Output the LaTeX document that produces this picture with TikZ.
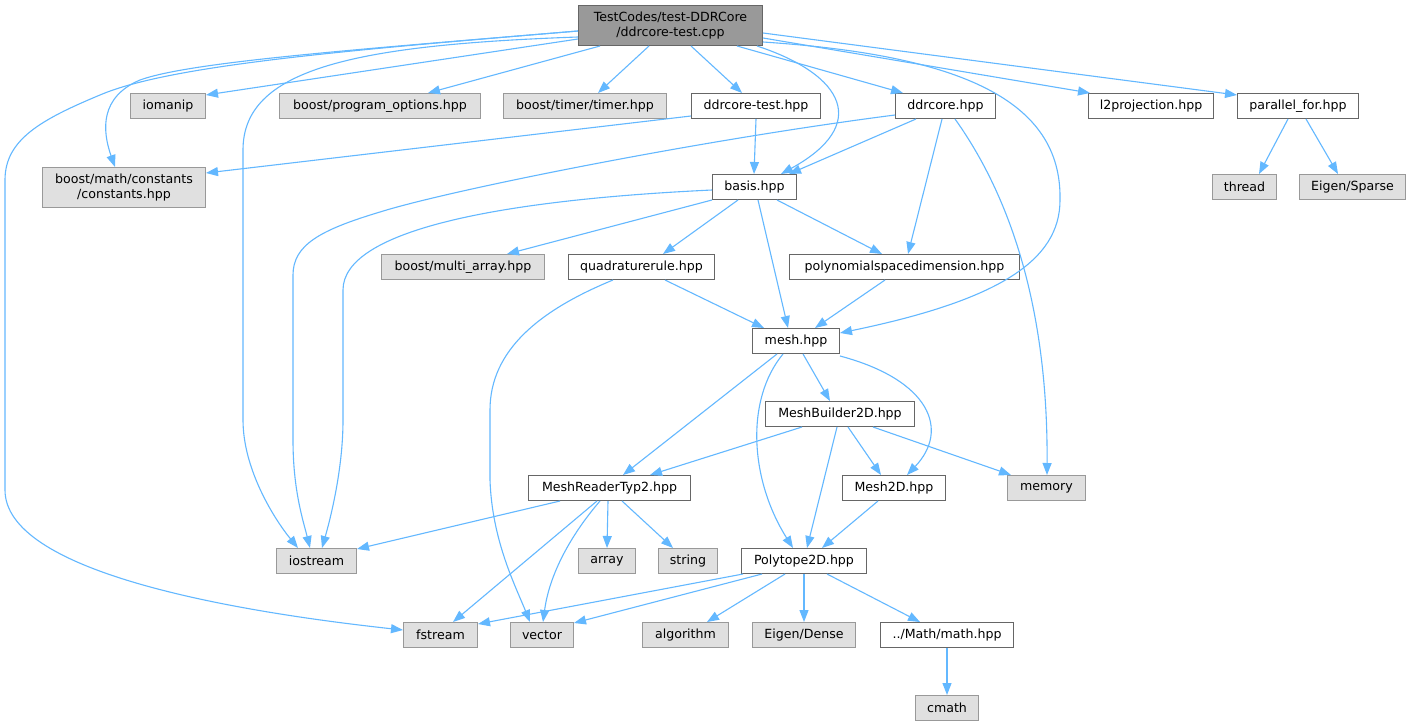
\documentclass[tikz,border=0pt]{standalone}
\usepackage{fontspec}
\setmainfont{DejaVu Sans}
\usetikzlibrary{arrows.meta}
\definecolor{edgec}{HTML}{63B8FF}
\definecolor{gfill}{HTML}{E0E0E0}
\definecolor{gline}{HTML}{999999}
\definecolor{wline}{HTML}{666666}
\definecolor{rfill}{HTML}{999999}
\begin{document}
\begin{tikzpicture}[x=1pt,y=-1pt,
  every node/.style={font=\fontsize{12.6}{15}\selectfont, inner sep=0pt, anchor=north west, line width=1pt, align=center},
  wbox/.style={draw=wline, fill=white, minimum height=25pt},
  gbox/.style={draw=gline, fill=gfill, minimum height=25pt},
  rbox/.style={draw=wline, fill=rfill, minimum height=40pt},
  edge/.style={draw=edgec, line width=1.1pt, -{Triangle[length=12pt,width=9pt]}}]
\useasboundingbox[fill=white] (0,0) rectangle (1420,725);
% nodes
\node[rbox, minimum width=184pt] (root) at (578,5) {TestCodes/test-DDRCore\\/ddrcore-test.cpp};
\node[gbox, minimum width=75pt] (iomanip) at (130,93) {iomanip};
\node[gbox, minimum width=201pt] (progopt) at (279,93) {boost/program\_options.hpp};
\node[gbox, minimum width=163pt] (timer) at (503,93) {boost/timer/timer.hpp};
\node[wbox, minimum width=129pt] (dtest) at (691,93) {ddrcore-test.hpp};
\node[wbox, minimum width=100pt] (ddrcore) at (895,93) {ddrcore.hpp};
\node[wbox, minimum width=125pt] (l2p) at (1088,93) {l2projection.hpp};
\node[wbox, minimum width=121pt] (pfor) at (1237,93) {parallel\_for.hpp};
\node[gbox, minimum width=163pt, minimum height=40pt] (const) at (42,167) {boost/math/constants\\/constants.hpp};
\node[wbox, minimum width=84pt] (basis) at (712,174) {basis.hpp};
\node[gbox, minimum width=64pt] (thread) at (1212,174) {thread};
\node[gbox, minimum width=106pt] (sparse) at (1299,174) {Eigen/Sparse};
\node[gbox, minimum width=163pt] (multi) at (381,254) {boost/multi\_array.hpp};
\node[wbox, minimum width=146pt] (quad) at (568,254) {quadraturerule.hpp};
\node[wbox, minimum width=230pt] (poly) at (789,254) {polynomialspacedimension.hpp};
\node[wbox, minimum width=87pt] (mesh) at (752,328) {mesh.hpp};
\node[wbox, minimum width=149pt] (mb2d) at (765,401) {MeshBuilder2D.hpp};
\node[wbox, minimum width=162pt] (mrt) at (528,475) {MeshReaderTyp2.hpp};
\node[wbox, minimum width=103pt] (mesh2d) at (842,475) {Mesh2D.hpp};
\node[gbox, minimum width=78pt] (memory) at (1007,475) {memory};
\node[gbox, minimum width=80pt] (iostream) at (276,548) {iostream};
\node[gbox, minimum width=57pt] (array) at (578,548) {array};
\node[gbox, minimum width=59pt] (string) at (658,548) {string};
\node[wbox, minimum width=125pt] (poly2d) at (741,548) {Polytope2D.hpp};
\node[gbox, minimum width=74pt] (fstream) at (403,622) {fstream};
\node[gbox, minimum width=63pt] (vector) at (510,622) {vector};
\node[gbox, minimum width=86pt] (algo) at (642,622) {algorithm};
\node[gbox, minimum width=103pt] (dense) at (752,622) {Eigen/Dense};
\node[wbox, minimum width=133pt] (math) at (880,622) {../Math/math.hpp};
\node[gbox, minimum width=63pt] (cmath) at (915,695) {cmath};
% root edges
\draw[edge] ([yshift=-26pt]root.north west) .. controls (350,50) and (170,65) .. (100,95) .. controls (40,120) and (5,140) .. (5,180) -- (5,490) .. controls (5,570) and (220,610) .. ([yshift=-8pt]fstream.north west);
\draw[edge] ([yshift=-26pt]root.north west) .. controls (350,50) and (190,62) .. (140,80) .. controls (100,97) and (102,130) .. ([xshift=73pt]const.north west);
\draw[edge] ([yshift=-34pt]root.north west) -- ([yshift=-2pt]iomanip.north east);
\draw[edge] ([yshift=-32pt]root.north west) .. controls (350,45) and (243,70) .. (243,150) -- (243,420) .. controls (243,470) and (275,520) .. ([xshift=22pt]iostream.north west);
\draw[edge] ([xshift=22pt]root.south west) -- ([xshift=149pt]progopt.north west);
\draw[edge] ([xshift=71pt]root.south west) -- ([xshift=95pt]timer.north west);
\draw[edge] ([xshift=113pt]root.south west) -- ([xshift=51pt]dtest.north west);
\draw[edge] ([xshift=179pt]root.south west) .. controls (845,75) and (870,125) .. ([xshift=69pt]basis.north west);
\draw[edge] ([xshift=159pt]root.south west) -- ([xshift=8pt]ddrcore.north west);
\draw[edge] ([yshift=-37pt]root.north east) .. controls (960,55) and (1062,100) .. (1060,200) .. controls (1060,260) and (1000,300) .. ([yshift=-5pt]mesh.north east);
\draw[edge] ([yshift=-33pt]root.north east) -- ([xshift=2pt]l2p.north west);
\draw[edge] ([yshift=-28pt]root.north east) -- ([yshift=-2pt]pfor.north west);
% ddrcore-test.hpp
\draw[edge] ([yshift=-23pt]dtest.north west) -- ([yshift=-6pt]const.north east);
\draw[edge] ([xshift=65pt]dtest.south west) -- ([xshift=42pt]basis.north west);
% ddrcore.hpp
\draw[edge] ([yshift=-22pt]ddrcore.north west) .. controls (700,140) and (450,190) .. (380,212) .. controls (320,230) and (293,245) .. (293,275) -- (293,440) .. controls (293,490) and (303,520) .. ([xshift=34pt]iostream.north west);
\draw[edge] ([xshift=21pt]ddrcore.south west) -- ([xshift=77pt]basis.north west);
\draw[edge] ([xshift=47pt]ddrcore.south west) -- ([xshift=119pt]poly.north west);
\draw[edge] ([xshift=60pt]ddrcore.south west) .. controls (1020,210) and (1048,330) .. ([xshift=40pt]memory.north west);
% parallel_for.hpp
\draw[edge] ([xshift=51pt]pfor.south west) -- ([xshift=47pt]thread.north west);
\draw[edge] ([xshift=69pt]pfor.south west) -- ([xshift=39pt]sparse.north west);
% basis.hpp
\draw[edge] ([yshift=-16pt]basis.north west) .. controls (500,200) and (343,230) .. (343,290) -- (343,420) .. controls (343,470) and (330,520) .. ([xshift=46pt]iostream.north west);
\draw[edge] (basis.south west) -- ([xshift=126pt]multi.north west);
\draw[edge] ([xshift=26pt]basis.south west) -- ([xshift=95pt]quad.north west);
\draw[edge] ([xshift=65pt]basis.south west) -- ([xshift=93pt]poly.north west);
\draw[edge] ([xshift=46pt]basis.south west) -- ([xshift=36pt]mesh.north west);
% quadraturerule.hpp
\draw[edge] ([xshift=45pt]quad.south west) .. controls (540,310) and (490,350) .. (490,410) -- (490,480) .. controls (492,540) and (515,585) .. ([xshift=20pt]vector.north west);
\draw[edge] ([xshift=97pt]quad.south west) -- ([xshift=12pt]mesh.north west);
% polynomialspacedimension.hpp
\draw[edge] ([xshift=96pt]poly.south west) -- ([xshift=63pt]mesh.north west);
% mesh.hpp
\draw[edge] ([xshift=25pt]mesh.south west) -- ([xshift=95pt]mrt.north west);
\draw[edge] ([xshift=31pt]mesh.south west) .. controls (745,400) and (750,480) .. ([xshift=52pt]poly2d.north west);
\draw[edge] ([xshift=51pt]mesh.south west) -- ([xshift=65pt]mb2d.north west);
\draw[edge] ([yshift=-28pt]mesh.north east) .. controls (930,380) and (950,430) .. ([xshift=65pt]mesh2d.north west);
% MeshBuilder2D.hpp
\draw[edge] ([xshift=37pt]mb2d.south west) -- ([xshift=122pt]mrt.north west);
\draw[edge] ([xshift=72pt]mb2d.south west) -- ([xshift=66pt]poly2d.north west);
\draw[edge] ([xshift=83pt]mb2d.south west) -- ([xshift=39pt]mesh2d.north west);
\draw[edge] ([xshift=108pt]mb2d.south west) -- ([xshift=4pt]memory.north west);
% MeshReaderTyp2.hpp
\draw[edge] ([xshift=32pt]mrt.south west) -- ([yshift=-1pt]iostream.north east);
\draw[edge] ([xshift=69pt]mrt.south west) -- ([xshift=50pt]fstream.north west);
\draw[edge] ([xshift=72pt]mrt.south west) .. controls (575,530) and (550,570) .. ([xshift=33pt]vector.north west);
\draw[edge] ([xshift=80pt]mrt.south west) -- ([xshift=29pt]array.north west);
\draw[edge] ([xshift=94pt]mrt.south west) -- ([xshift=15pt]string.north west);
% Mesh2D.hpp
\draw[edge] ([xshift=36pt]mesh2d.south west) -- ([xshift=81pt]poly2d.north west);
% Polytope2D.hpp
\draw[edge] ([xshift=2pt]poly2d.south west) -- ([yshift=-2pt]fstream.north east);
\draw[edge] ([xshift=21pt]poly2d.south west) -- ([yshift=-1pt]vector.north east);
\draw[edge] ([xshift=44pt]poly2d.south west) -- ([xshift=65pt]algo.north west);
\draw[edge] ([xshift=63pt]poly2d.south west) -- ([xshift=52pt]dense.north west);
\draw[edge] ([xshift=86pt]poly2d.south west) -- ([xshift=40pt]math.north west);
% math.hpp
\draw[edge] (math.south) -- (cmath.north);
\end{tikzpicture}
\end{document}
